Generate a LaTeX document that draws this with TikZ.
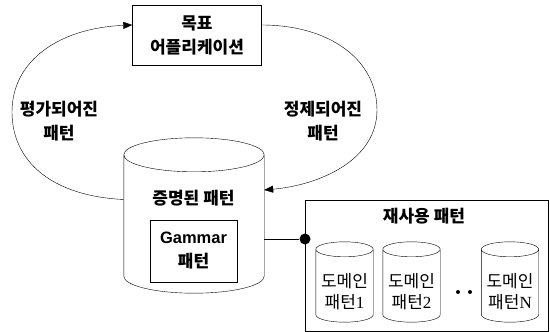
\documentclass[tikz,border=0pt]{standalone}
\usepackage{fontspec}
\setmainfont{Liberation Sans}
\newfontfamily\kor{Noto Sans CJK KR}
\newfontfamily\numfont{Liberation Serif}
\usetikzlibrary{arrows.meta,calc}

% outline of a drum round the (invisible) node #1, ends of half height #2
\newcommand\drumline[2]{%
  \draw let \p1=(#1.north west), \p2=(#1.south east), \n1={(\x2-\x1)/2} in
    ([yshift=-#2]#1.north west) -- ([yshift=#2]#1.south west)
    arc[start angle=180, end angle=360, x radius=\n1, y radius=#2]
    -- ([yshift=-#2]#1.north east)
    ([yshift=-#2]#1.north) ellipse[x radius=\n1, y radius=#2];}

\begin{document}
\begin{tikzpicture}[x=1pt,y=-1pt,
  lbl/.style={font=\kor\bfseries\fontsize{17}{24}\selectfont, align=center, inner sep=0},
  domlbl/.style={font=\kor\fontsize{17}{21}\selectfont, align=center, inner sep=0},
  drum/.style={inner sep=0},
  tip/.style={-{Triangle[length=9pt,width=7pt]}}]
  \useasboundingbox (0,0) rectangle (550,332);
  % target application
  \node[draw, minimum width=129pt, minimum height=60pt, lbl] (goal) at (197,35) {목표\\어플리케이션};
  % proven patterns
  \node[drum, minimum width=140pt, minimum height=155pt] (proven) at (194,215.5) {};
  \drumline{proven}{17pt}
  \node[lbl] (proventxt) at (193.5,198) {증명된 패턴};
  \node[draw, minimum width=87pt, minimum height=62pt, lbl] (gammar) at (193.5,251)
    {{\fontspec{Liberation Sans}\bfseries\fontsize{16.5}{24}\selectfont Gammar}\\패턴};
  % cycle
  \draw[tip] ([yshift=16pt]proven.west) .. controls (50,196) and (12,160) .. (12,112)
    .. controls (12,60) and (60,28) .. ([yshift=10pt]goal.west);
  \draw[tip] ([yshift=10pt]goal.east) .. controls (330,25) and (377,60) .. (377,110)
    .. controls (377,160) and (320,185) .. ([yshift=25.5pt]proven.east);
  \node[lbl] (evaltxt) at (59,121) {평가되어진\\패턴};
  \node[lbl] (refinetxt) at (323,121) {정제되어진\\패턴};
  % reuse patterns
  \node[draw, minimum width=243pt, minimum height=131pt] (reuse) at (426.5,265.5) {};
  \node[lbl] (reusetxt) at (424,216) {재사용 패턴};
  \node[circle, fill, inner sep=0, minimum size=11pt] (hub) at (305,239) {};
  \draw ([yshift=-23.5pt]proven.east) -- (hub);
  \foreach \cx/\n/\k in {344.5/1/a, 411.5/2/b, 510/N/c}{
    \node[drum, minimum width=57pt, minimum height=80pt] (dom\k) at (\cx,282) {};
    \drumline{dom\k}{7.5pt}
    \node[domlbl] (domtxt\k) at (\cx,292) {도메인\\패턴{\numfont\n}};
  }
  \foreach \dx in {458,470}
    \node[circle, fill, inner sep=0, minimum size=4pt] (dot\dx) at (\dx,292) {};
\end{tikzpicture}
\end{document}
